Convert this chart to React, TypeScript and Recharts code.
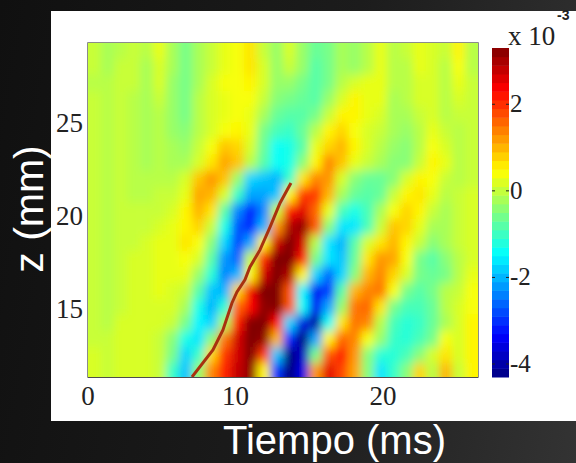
import {
  ScatterChart,
  Scatter,
  XAxis,
  YAxis,
  ReferenceArea
} from 'recharts';

// tiempo (ms) of each column
const timeCols = [
  0.44, 1.32, 2.2, 3.08, 3.97, 4.85, 5.73, 6.61, 7.49, 8.37, 9.25, 10.14, 11.02, 11.9, 12.78,
  13.66, 14.54, 15.42, 16.31, 17.19, 18.07, 18.95, 19.83, 20.71, 21.59, 22.47, 23.36, 24.24, 25.12, 26.0
];
// z (mm) of each row, top to bottom
const zRows = [
  28.83, 27.97, 27.11, 26.25, 25.39, 24.53, 23.67, 22.81, 21.95, 21.09, 20.23,
  19.37, 18.51, 17.65, 16.79, 15.93, 15.07, 14.21, 13.35, 12.49, 11.63
];
// in units of 1e-4
const heat = [
  [2, 0, 1, 2, 1, 4, 0, -3, 0, 2, 4, 5, 7, 2, -1, 3, -1, -4, -3, 0, -1, 1, 4, 1, 2, 4, 3, 2, 6, 1],
  [2, 0, 2, 2, 0, 3, 0, -3, 0, 2, 4, 5, 7, 3, -1, 2, -1, -5, -3, 0, -1, 1, 4, 1, 1, 4, 3, 1, 5, 1],
  [1, 1, 2, 2, 0, 3, -1, -3, 0, 3, 5, 5, 6, 3, -1, -1, -3, -5, -3, 1, 3, 4, 4, 1, 1, 3, 3, 1, 4, 2],
  [2, 1, 2, 1, 0, 2, -1, -3, 1, 3, 4, 5, 5, 2, -2, -3, -4, -5, -1, 3, 6, 4, 4, 0, 1, 3, 3, 1, 3, 2],
  [2, 1, 2, 1, 0, 1, -1, -3, 1, 3, 4, 5, 4, 0, -4, -5, -5, -3, 2, 6, 6, 4, 3, 0, 0, 2, 3, 1, 2, 2],
  [2, 1, 2, 1, 0, 1, -1, -2, 1, 3, 5, 6, 4, -3, -6, -7, -4, 1, 6, 8, 5, 3, 2, 0, -1, 1, 4, 2, 1, 2],
  [2, 1, 2, 1, 0, 1, 0, -1, 2, 5, 9, 8, 3, -4, -10, -9, -5, 4, 8, 10, 6, 3, 1, -1, -2, 1, 5, 3, 1, 2],
  [2, 1, 2, 1, 0, 1, 0, 0, 3, 7, 11, 9, 1, -5, -10, -9, -2, 6, 13, 9, 4, 2, 0, -2, -2, 2, 6, 4, 1, 2],
  [2, 1, 2, 1, 1, 1, 1, 3, 9, 12, 9, -1, -13, -14, -15, -7, 7, 13, 12, 3, -2, -4, -4, -2, 3, 6, 5, 2, 1, 2],
  [2, 1, 2, 1, 1, 2, 2, 4, 11, 10, 3, -7, -16, -16, -14, 6, 18, 18, 10, 0, -4, -5, -4, 2, 6, 7, 4, 1, 2, 3],
  [2, 1, 2, 2, 2, 2, 3, 6, 10, 7, -5, -18, -25, -18, 2, 20, 23, 15, 4, -6, -9, -6, 0, 5, 8, 6, 2, 0, 2, 3],
  [2, 1, 2, 2, 2, 3, 4, 6, 8, 2, -9, -21, -24, -15, 12, 26, 28, 16, -2, -12, -12, -6, 2, 9, 8, 4, 0, 0, 2, 3],
  [2, 1, 2, 2, 3, 4, 4, 7, 5, -2, -13, -22, -16, 6, 24, 33, 24, 1, -12, -15, -5, 3, 7, 10, 6, 2, -2, 0, 2, 3],
  [2, 1, 2, 3, 3, 4, 4, 5, 3, -5, -17, -20, 2, 19, 30, 32, 20, -3, -12, -14, -4, 7, 12, 11, 5, -3, -5, -2, 1, 3],
  [2, 1, 2, 3, 3, 4, 4, 4, -1, -8, -18, -15, 6, 24, 33, 26, 6, -13, -20, -13, -2, 10, 13, 8, 3, -3, -4, -3, 1, 4],
  [2, 1, 2, 3, 3, 4, 3, 2, -5, -14, -15, 8, 22, 31, 30, 16, -11, -27, -23, -5, 10, 13, 14, 5, -3, -5, -3, 1, 2, 5],
  [2, 1, 2, 3, 3, 3, 3, 0, -9, -15, -8, 15, 21, 28, 29, 16, -10, -27, -16, -1, 14, 15, 7, -3, -6, -6, -4, 1, 3, 5],
  [2, 1, 3, 3, 3, 3, 2, -3, -11, -13, 0, 20, 29, 31, 21, -13, -28, -32, -10, 7, 14, 13, 1, -6, -8, -7, -4, 0, 3, 6],
  [2, 2, 3, 3, 3, 2, -2, -9, -12, -2, 14, 24, 30, 28, 10, -24, -36, -16, 6, 15, 13, 5, -1, -7, -8, -6, -3, 5, 3, 6],
  [3, 2, 3, 3, 3, 2, -3, -13, -7, 8, 18, 24, 31, 18, -14, -36, -30, -3, 16, 20, 12, -2, -8, -8, -6, -2, 3, 7, 3, 6],
  [3, 2, 3, 3, 3, 2, -7, -14, -1, 13, 19, 25, 28, 6, -23, -37, -28, 12, 23, 17, 11, -2, -12, -7, -2, 8, 1, 10, 2, 6]
];

// wave front drawn over the map
const frontTime = [7.05, 8.47, 9.15, 9.76, 10.1, 10.64, 10.98, 11.66, 12.34, 13.02, 13.76];
const frontZ = [11.3, 12.75, 13.83, 15.28, 15.87, 16.52, 17.21, 18.13, 19.36, 20.65, 21.73];

const xTicks = [0, 10, 20];
const yTicks = [15, 20, 25];
const barTicks = [-4, -2, 0, 2];
const barLevels = [
  -4.2, -4.0, -3.8, -3.6, -3.4, -3.2, -3.0, -2.8, -2.6, -2.4, -2.2, -2.0, -1.8, -1.6, -1.4, -1.2, -1.0, -0.8, -0.6,
  -0.4, -0.2, 0, 0.2, 0.4, 0.6, 0.8, 1.0, 1.2, 1.4, 1.6, 1.8, 2.0, 2.2, 2.4, 2.6, 2.8, 3.0, 3.2
];

const VMIN = -4.3;
const VMAX = 3.3;
// the blur pulls the peaks down, so the map colours are pushed back a little
const BLUR_GAIN = 1.2;
const COLOR_SHIFT = -0.2;
const W = 576;
const H = 463;
const PLOT = { left: 88, top: 43, right: 478, bottom: 377 };
const BAR = { left: 492, top: 48, right: 509, bottom: 377 };
const SERIF = '"Liberation Serif", serif';
const SANS = '"Liberation Sans", Arial, sans-serif';

const jet = (v: number) => {
  const p = Math.min(1, Math.max(0, (v - VMIN) / (VMAX - VMIN)));
  const ch = (c: number) => Math.round(255 * Math.min(1, Math.max(0, 1.5 - Math.abs(4 * p - c))));
  return `rgb(${ch(3)},${ch(2)},${ch(1)})`;
};

const cells = heat.flatMap((row, r) =>
  row.map((v, c) => ({ t: timeCols[c], z: zRows[r], v: v / 10, r, c }))
);
const front = frontTime.map((t, i) => ({ t, z: frontZ[i] }));
const barData = barLevels.map(v => ({ x: 0, v }));

const cellW = (PLOT.right - PLOT.left) / timeCols.length;
const cellH = (PLOT.bottom - PLOT.top) / zRows.length;
const barH = (BAR.bottom - BAR.top) / barLevels.length;

// edge cells run past the frame so the blur does not fade out at the border
const HeatCell = (props: any) => {
  const { cx, cy, payload } = props;
  const pad = 16;
  const x0 = cx - cellW / 2 - (payload.c === 0 ? pad : 0);
  const x1 = cx + cellW / 2 + 0.5 + (payload.c === timeCols.length - 1 ? pad : 0);
  const y0 = cy - cellH / 2 - (payload.r === 0 ? pad : 0);
  const y1 = cy + cellH / 2 + 0.5 + (payload.r === zRows.length - 1 ? pad : 0);
  return (
    <rect
      x={x0}
      y={y0}
      width={x1 - x0}
      height={y1 - y0}
      fill={jet(payload.v * BLUR_GAIN + COLOR_SHIFT)}
    />
  );
};

const BarCell = (props: any) => {
  const { cy, payload } = props;
  return (
    <rect
      x={BAR.left}
      y={cy - barH / 2}
      width={BAR.right - BAR.left}
      height={barH + 0.5}
      fill={jet(payload.v)}
    />
  );
};

const BarTick = (props: any) => {
  const { y, payload } = props;
  return (
    <g>
      <line x1={BAR.left} x2={BAR.left + 3} y1={y} y2={y} stroke="#222" />
      <line x1={BAR.right - 3} x2={BAR.right} y1={y} y2={y} stroke="#222" />
      <text x={BAR.right + 1} y={y + 8} fontFamily={SERIF} fontSize={25} fill="#222">
        {payload.value}
      </text>
    </g>
  );
};

const noDot = () => null;

export default function App() {
  return (
    <div
      style={{
        position: 'fixed',
        left: 0,
        top: 0,
        width: W,
        height: H,
        overflow: 'hidden',
        background: 'linear-gradient(100deg, #101010 0%, #1c1c1c 55%, #333 100%)'
      }}>
      <style>{`.heat-cells { filter: url(#soft); clip-path: url(#plot-clip); }`}</style>
      <div
        style={{ position: 'absolute', left: 51, top: 11, width: W - 51, height: 410, background: '#fff' }}
      />
      <div style={{ position: 'absolute', left: 0, top: 0 }}>
        <ScatterChart
          width={W}
          height={H}
          margin={{ top: PLOT.top, right: W - PLOT.right, bottom: H - PLOT.bottom - 34, left: PLOT.left - 40 }}>
          <defs>
            <filter id="soft" filterUnits="userSpaceOnUse" x={0} y={0} width={W} height={H}>
              <feGaussianBlur stdDeviation="4.5 5.5" />
            </filter>
            <clipPath id="plot-clip">
              <rect
                x={PLOT.left}
                y={PLOT.top}
                width={PLOT.right - PLOT.left}
                height={PLOT.bottom - PLOT.top}
              />
            </clipPath>
          </defs>
          <XAxis
            type="number"
            dataKey="t"
            domain={[0, 26.44]}
            ticks={xTicks}
            interval={0}
            height={34}
            allowDataOverflow
            tickLine={false}
            tickSize={0}
            axisLine={{ stroke: '#111' }}
            tickMargin={9}
            tick={{ fontFamily: SERIF, fontSize: 27, fill: '#222' }}
          />
          <YAxis
            type="number"
            dataKey="z"
            domain={[11.3, 29.25]}
            ticks={yTicks}
            interval={0}
            width={40}
            allowDataOverflow
            tickLine={false}
            tickSize={0}
            axisLine={false}
            tickMargin={5}
            tick={{ fontFamily: SERIF, fontSize: 27, fill: '#222' }}
          />
          <Scatter
            data={cells}
            className="heat-cells"
            shape={HeatCell}
            isAnimationActive={false}
          />
          <ReferenceArea
            x1={0}
            x2={26.44}
            y1={11.3}
            y2={29.25}
            fill="none"
            stroke="#666"
            strokeWidth={1.5}
            ifOverflow="visible"
          />
          <Scatter
            data={front}
            shape={noDot}
            line={{ stroke: '#a8320f', strokeWidth: 3 }}
            isAnimationActive={false}
          />
          <text x={334.5} y={454} textAnchor="middle" fontFamily={SANS} fontSize={40} fill="#fff">
            Tiempo (ms)
          </text>
          <text
            transform="translate(43 209) rotate(-90)"
            textAnchor="middle"
            fontFamily={SANS}
            fontSize={41}
            fill="#fff">
            z (mm)
          </text>
        </ScatterChart>
      </div>
      <div style={{ position: 'absolute', left: 0, top: 0 }}>
        <ScatterChart
          width={W}
          height={H}
          margin={{ top: BAR.top, right: 40, bottom: H - BAR.bottom, left: BAR.left }}>
          <XAxis type="number" dataKey="x" domain={[-1, 1]} hide />
          <YAxis
            type="number"
            dataKey="v"
            orientation="right"
            domain={[VMIN, VMAX]}
            ticks={barTicks}
            interval={0}
            width={27}
            tickLine={false}
            axisLine={false}
            tick={BarTick}
          />
          <Scatter data={barData} shape={BarCell} isAnimationActive={false} />
          <text x={508} y={45} fontFamily={SERIF} fontSize={27} fill="#222">
            x 10
          </text>
          <text x={557} y={20} fontFamily={SANS} fontSize={14} fontWeight="bold" fill="#222">
            -3
          </text>
        </ScatterChart>
      </div>
    </div>
  );
}
